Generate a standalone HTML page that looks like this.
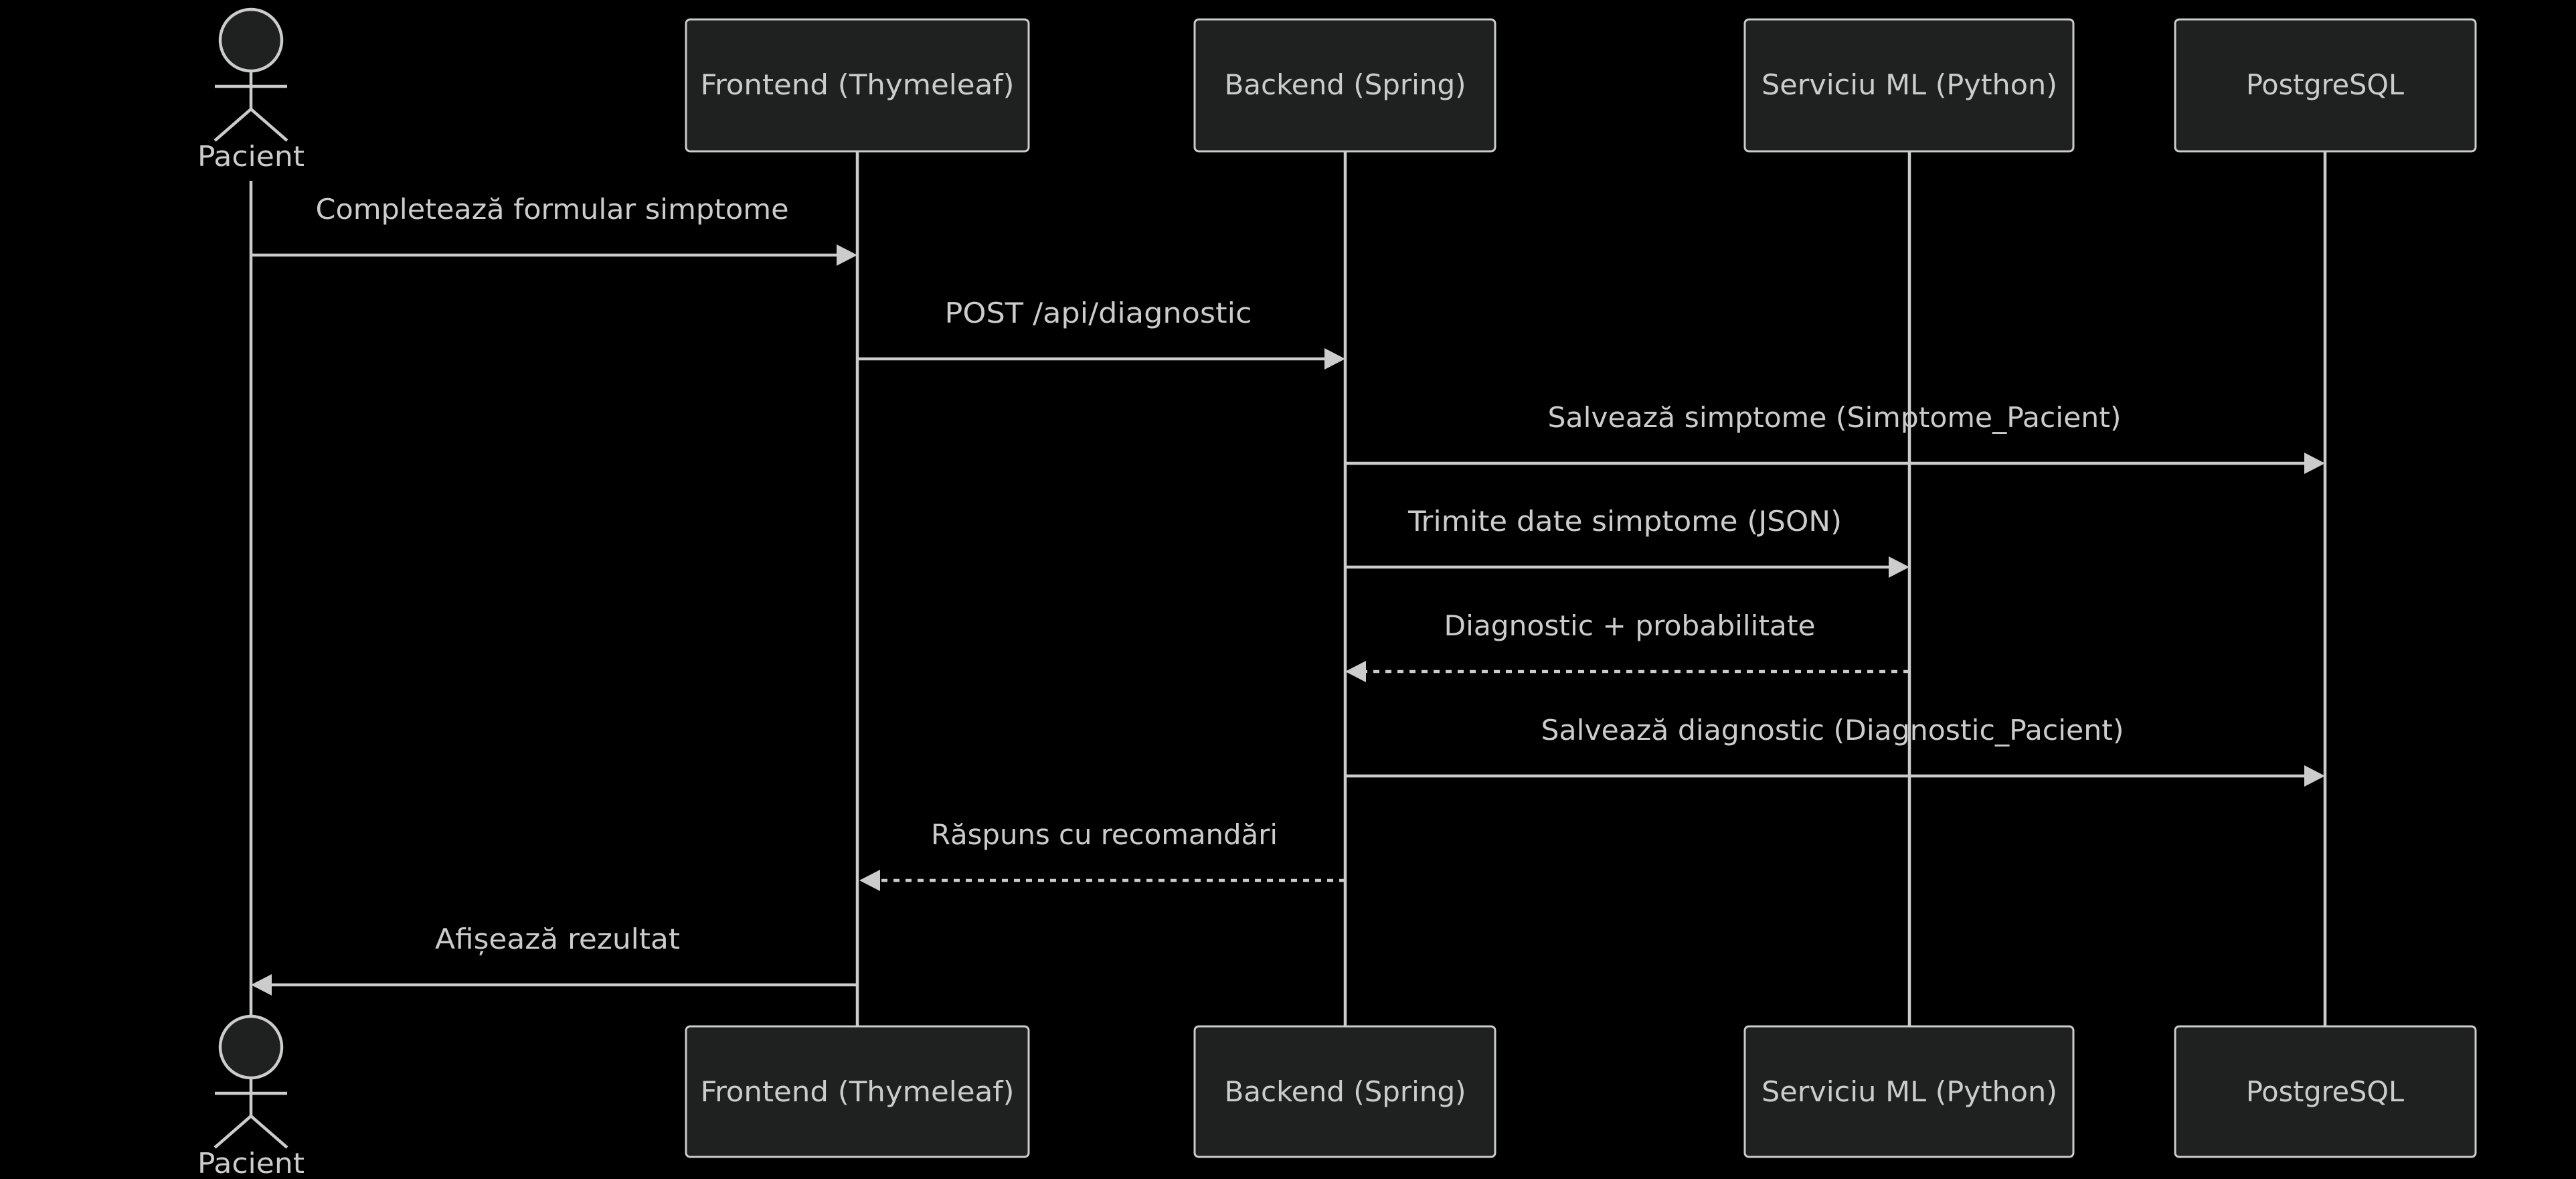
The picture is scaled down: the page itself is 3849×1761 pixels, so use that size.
<!DOCTYPE html>
<html><head><meta charset="utf-8"><style>
html,body{margin:0;padding:0;background:#000;width:3849px;height:1761px;overflow:hidden}
text{font-family:"DejaVu Sans Condensed","Liberation Sans",sans-serif;fill:#ccc;font-size:42px}
</style></head><body>
<svg width="3849" height="1761" viewBox="0 0 3849 1761" xmlns="http://www.w3.org/2000/svg">
<rect width="3849" height="1761" fill="#000"/>
<g stroke="#ccc" stroke-width="4.5" fill="none">
<line x1="375" y1="270" x2="375" y2="1517"/>
<line x1="1281" y1="226" x2="1281" y2="1533"/>
<line x1="2010" y1="226" x2="2010" y2="1533"/>
<line x1="2853" y1="226" x2="2853" y2="1533"/>
<line x1="3474" y1="226" x2="3474" y2="1533"/>
</g>
<g fill="#1f2020" stroke="#ccc" stroke-width="3">
<rect x="1025" y="29" width="512" height="197" rx="6"/>
<rect x="1785" y="29" width="449" height="197" rx="6"/>
<rect x="2607" y="29" width="491" height="197" rx="6"/>
<rect x="3250" y="29" width="449" height="197" rx="6"/>
<rect x="1025" y="1533" width="512" height="195" rx="6"/>
<rect x="1785" y="1533" width="449" height="195" rx="6"/>
<rect x="2607" y="1533" width="491" height="195" rx="6"/>
<rect x="3250" y="1533" width="449" height="195" rx="6"/>
</g>
<g text-anchor="middle">
<text x="1281" y="141" textLength="469" lengthAdjust="spacingAndGlyphs">Frontend (Thymeleaf)</text>
<text x="2010" y="141" textLength="361" lengthAdjust="spacingAndGlyphs">Backend (Spring)</text>
<text x="2853" y="141" textLength="442" lengthAdjust="spacingAndGlyphs">Serviciu ML (Python)</text>
<text x="3474" y="141" textLength="236" lengthAdjust="spacingAndGlyphs">PostgreSQL</text>
<text x="1281" y="1645" textLength="469" lengthAdjust="spacingAndGlyphs">Frontend (Thymeleaf)</text>
<text x="2010" y="1645" textLength="361" lengthAdjust="spacingAndGlyphs">Backend (Spring)</text>
<text x="2853" y="1645" textLength="442" lengthAdjust="spacingAndGlyphs">Serviciu ML (Python)</text>
<text x="3474" y="1645" textLength="236" lengthAdjust="spacingAndGlyphs">PostgreSQL</text>
</g>
<g stroke="#ccc" stroke-width="4.5">
<circle cx="375" cy="60" r="46" fill="#1f2020"/>
<line x1="375" y1="106" x2="375" y2="163"/>
<line x1="321" y1="129" x2="429" y2="129"/>
<line x1="375" y1="163" x2="321" y2="210"/>
<line x1="375" y1="163" x2="429" y2="210"/>
</g>
<text x="375" y="248" text-anchor="middle" textLength="160" lengthAdjust="spacingAndGlyphs">Pacient</text>
<g transform="translate(0,1504)">
<g stroke="#ccc" stroke-width="4.5">
<circle cx="375" cy="60" r="46" fill="#1f2020"/>
<line x1="375" y1="106" x2="375" y2="163"/>
<line x1="321" y1="129" x2="429" y2="129"/>
<line x1="375" y1="163" x2="321" y2="210"/>
<line x1="375" y1="163" x2="429" y2="210"/>
</g>
<text x="375" y="248" text-anchor="middle" textLength="160" lengthAdjust="spacingAndGlyphs">Pacient</text>
</g>
<g stroke="#ccc" stroke-width="4.5">
<line x1="375" y1="381" x2="1255" y2="381"/>
<line x1="1281" y1="536" x2="1984" y2="536"/>
<line x1="2010" y1="692" x2="3448" y2="692"/>
<line x1="2010" y1="847" x2="2827" y2="847"/>
<line x1="2853" y1="1003" x2="2036" y2="1003" stroke-dasharray="9,9"/>
<line x1="2010" y1="1159" x2="3448" y2="1159"/>
<line x1="2010" y1="1315" x2="1311" y2="1315" stroke-dasharray="9,9"/>
<line x1="1281" y1="1471" x2="401" y2="1471"/>
</g>
<g fill="#ccc">
<polygon points="1281,381 1250,365 1250,397"/>
<polygon points="2010,536 1979,520 1979,552"/>
<polygon points="3474,692 3443,676 3443,708"/>
<polygon points="2853,847 2822,831 2822,863"/>
<polygon points="2010,1003 2041,987 2041,1019"/>
<polygon points="3474,1159 3443,1143 3443,1175"/>
<polygon points="1284,1315 1315,1299 1315,1331"/>
<polygon points="375,1471 406,1455 406,1487"/>
</g>
<g text-anchor="middle">
<text x="825" y="327" textLength="707" lengthAdjust="spacingAndGlyphs">Completează formular simptome</text>
<text x="1641" y="482" textLength="459" lengthAdjust="spacingAndGlyphs">POST /api/diagnostic</text>
<text x="2741" y="638" textLength="857" lengthAdjust="spacingAndGlyphs">Salvează simptome (Simptome_Pacient)</text>
<text x="2428" y="793" textLength="648" lengthAdjust="spacingAndGlyphs">Trimite date simptome (JSON)</text>
<text x="2435" y="949" textLength="555" lengthAdjust="spacingAndGlyphs">Diagnostic + probabilitate</text>
<text x="2738" y="1105" textLength="871" lengthAdjust="spacingAndGlyphs">Salvează diagnostic (Diagnostic_Pacient)</text>
<text x="1650" y="1261" textLength="518" lengthAdjust="spacingAndGlyphs">Răspuns cu recomandări</text>
<text x="833" y="1417" textLength="366" lengthAdjust="spacingAndGlyphs">Afișează rezultat</text>
</g>
</svg>
</body></html>
